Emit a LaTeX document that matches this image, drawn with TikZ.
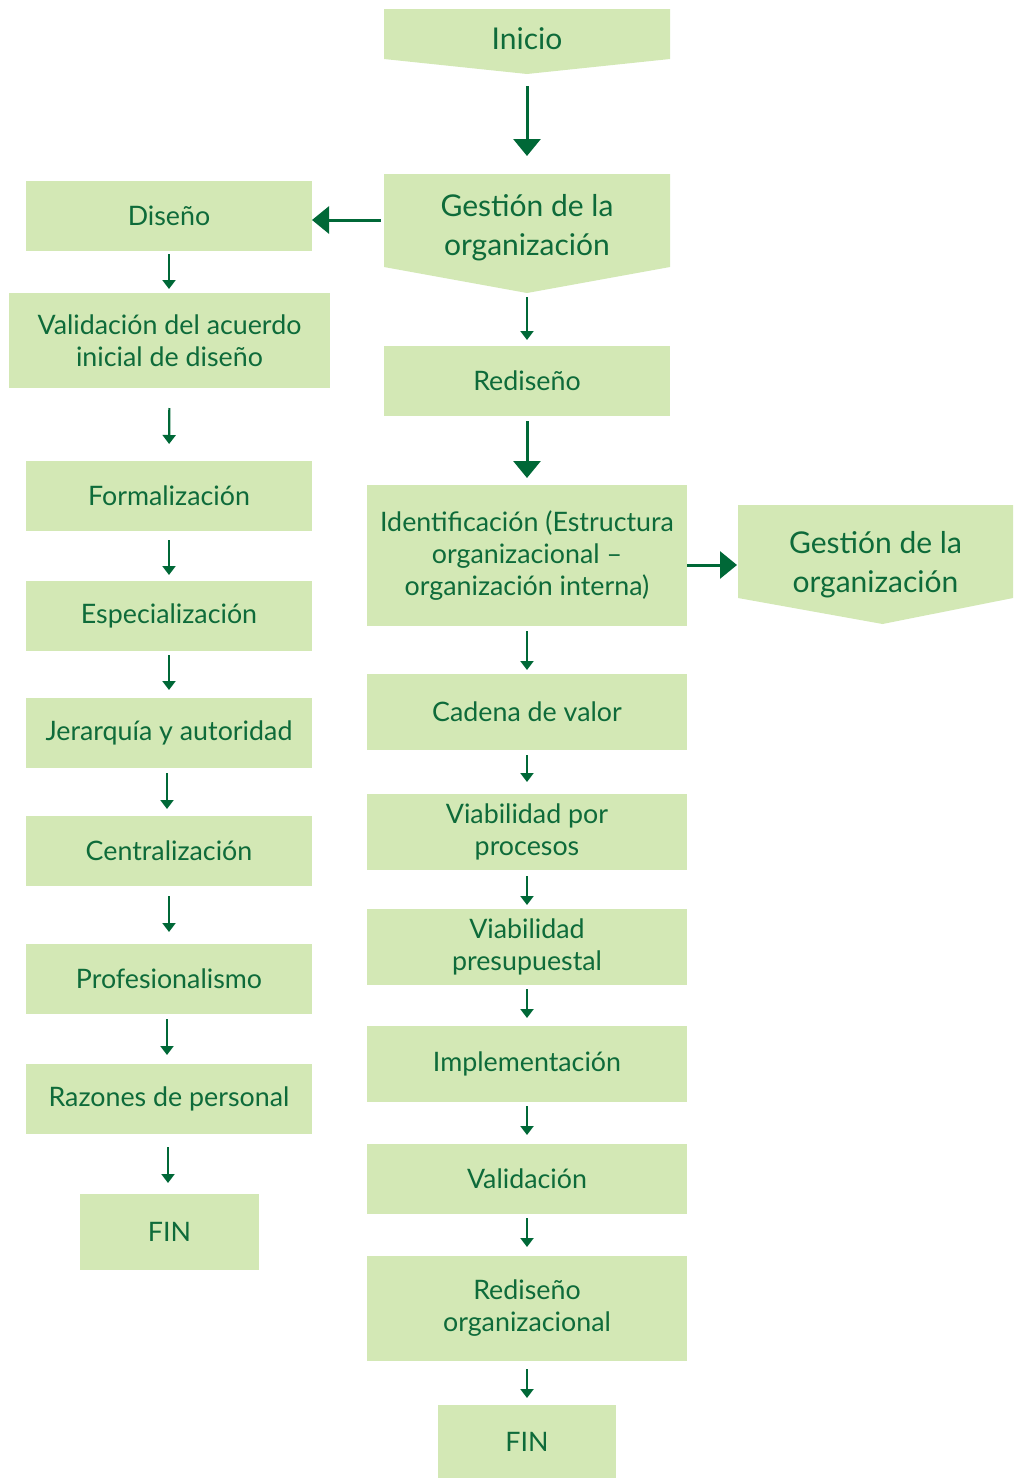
\documentclass[tikz,border=0pt]{standalone}
\usepackage{fontspec}
\setmainfont{Lato}
\usetikzlibrary{arrows.meta,calc,backgrounds}
\definecolor{boxfill}{HTML}{D3E8B5}
\definecolor{txt}{HTML}{0E6B3A}
\definecolor{arr}{HTML}{006837}
\begin{document}
\begin{tikzpicture}[x=1pt,y=-1pt,
  box/.style={fill=boxfill, text=txt, inner sep=0pt, outer sep=0pt, align=center, anchor=north west, font=\fontsize{26.8}{32}\selectfont},
  pent/.style={box, fill=none, font=\fontsize{30}{39}\selectfont},
  sarrow/.style={draw=arr, line width=2.2pt, -{Triangle[width=13pt,length=9pt]}},
  barrow/.style={draw=arr, line width=3pt, -{Triangle[width=27pt,length=17pt]}}]
\useasboundingbox (0,0) rectangle (1013,1478);
% pentagon nodes
\node[pent, minimum width=286pt, minimum height=59pt] (inicio) at (384,9) {Inicio};
\node[pent, minimum width=286pt, minimum height=108pt] (gestion) at (384,174) {Gestión de la\\organización};
\node[pent, minimum width=275pt, minimum height=120pt] (gestion2) at (738,505) {Gestión de la\\organización};
\begin{scope}[on background layer]
\fill[boxfill] (inicio.north west) -- (inicio.north east) -- ([yshift=9pt]inicio.south east) -- ([yshift=-6pt]inicio.south) -- ([yshift=9pt]inicio.south west) -- cycle;
\fill[boxfill] (gestion.north west) -- (gestion.north east) -- ([yshift=15pt]gestion.south east) -- ([yshift=-11pt]gestion.south) -- ([yshift=15pt]gestion.south west) -- cycle;
\fill[boxfill] (gestion2.north west) -- (gestion2.north east) -- ([yshift=27pt]gestion2.south east) -- ([xshift=7pt,yshift=1pt]gestion2.south) -- ([yshift=27pt]gestion2.south west) -- cycle;
\end{scope}
% left column
\node[box, minimum width=286pt, minimum height=70pt] (diseno) at (26,181) {Diseño};
\node[box, minimum width=321pt, minimum height=95pt] (valid) at (9,293) {Validación del acuerdo\\inicial de diseño};
\node[box, minimum width=286pt, minimum height=70pt] (formal) at (26,461) {Formalización};
\node[box, minimum width=286pt, minimum height=70pt] (espec) at (26,581) {Especialización};
\node[box, minimum width=286pt, minimum height=70pt] (jerar) at (26,698) {Jerarquía y autoridad};
\node[box, minimum width=286pt, minimum height=70pt] (central) at (26,816) {Centralización};
\node[box, minimum width=286pt, minimum height=70pt] (prof) at (26,944) {Profesionalismo};
\node[box, minimum width=286pt, minimum height=70pt] (razones) at (26,1064) {Razones de personal};
\node[box, minimum width=179pt, minimum height=76pt] (fin1) at (80,1194) {FIN};
% right column
\node[box, minimum width=286pt, minimum height=70pt] (redis) at (384,346) {Rediseño};
\node[box, minimum width=320pt, minimum height=141pt] (ident) at (367,485) {Identificación (Estructura\\organizacional –\\organización interna)};
\node[box, minimum width=320pt, minimum height=76pt] (cadena) at (367,674) {Cadena de valor};
\node[box, minimum width=320pt, minimum height=76pt] (viab1) at (367,794) {Viabilidad por\\procesos};
\node[box, minimum width=320pt, minimum height=76pt] (viab2) at (367,909) {Viabilidad\\presupuestal};
\node[box, minimum width=320pt, minimum height=76pt] (impl) at (367,1026) {Implementación};
\node[box, minimum width=320pt, minimum height=70pt] (valid2) at (367,1144) {Validación};
\node[box, minimum width=320pt, minimum height=105pt] (redorg) at (367,1256) {Rediseño\\organizacional};
\node[box, minimum width=178pt, minimum height=73pt] (fin2) at (438,1405) {FIN};
% big arrows
\draw[barrow, shorten <=18pt, shorten >=18pt] (inicio.south) -- (gestion.north);
\draw[barrow, shorten <=3pt] ([yshift=8pt]gestion.west) -- ([yshift=8pt]gestion.west -| diseno.east);
\draw[barrow, shorten <=5pt, shorten >=7pt] (redis.south) -- (ident.north);
\draw[barrow, shorten >=1pt] ([yshift=-9.5pt]ident.east) -- ([yshift=-9.5pt]ident.east -| gestion2.west);
% small arrows, left
\draw[sarrow, shorten <=3pt, shorten >=4pt] (diseno.south) -- (diseno.south |- valid.north);
\draw[sarrow, shorten <=20pt, shorten >=17pt] (valid.south) -- (formal.north);
\draw[sarrow, shorten <=9pt, shorten >=6pt] (formal.south) -- (espec.north);
\draw[sarrow, shorten <=4pt, shorten >=8pt] (espec.south) -- (jerar.north);
\draw[sarrow, shorten <=5pt, shorten >=7pt] ([xshift=-2pt]jerar.south) -- ([xshift=-2pt]central.north);
\draw[sarrow, shorten <=10pt, shorten >=12pt] (central.south) -- (prof.north);
\draw[sarrow, shorten <=5pt, shorten >=9pt] ([xshift=-2pt]prof.south) -- ([xshift=-2pt]razones.north);
\draw[sarrow, shorten <=13pt, shorten >=11pt] ([xshift=-1pt]razones.south) -- ([xshift=-1pt]razones.south |- fin1.north);
% small arrows, right
\draw[sarrow, shorten <=15pt, shorten >=6pt] (gestion.south) -- (redis.north);
\draw[sarrow, shorten <=5pt, shorten >=4pt] (ident.south) -- (cadena.north);
\draw[sarrow, shorten <=5pt, shorten >=12pt] (cadena.south) -- (viab1.north);
\draw[sarrow, shorten <=6pt, shorten >=4pt] (viab1.south) -- (viab2.north);
\draw[sarrow, shorten <=4pt, shorten >=8pt] (viab2.south) -- (impl.north);
\draw[sarrow, shorten <=4pt, shorten >=9pt] (impl.south) -- (valid2.north);
\draw[sarrow, shorten <=4pt, shorten >=9pt] (valid2.south) -- (redorg.north);
\draw[sarrow, shorten <=8pt, shorten >=7pt] (redorg.south) -- (fin2.north);
\end{tikzpicture}
\end{document}
